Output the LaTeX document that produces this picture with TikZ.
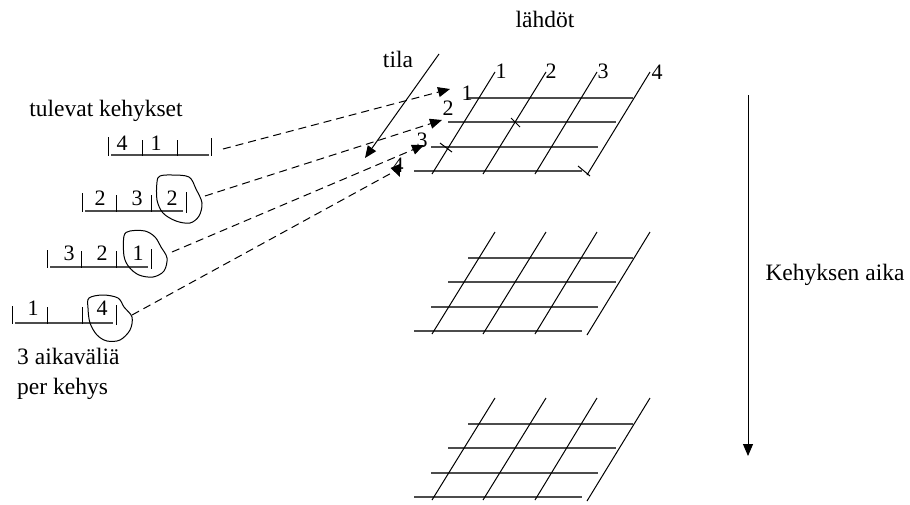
\documentclass[tikz,border=0pt]{standalone}
\usepackage{fontspec}
\setmainfont{Liberation Serif}
\usetikzlibrary{arrows.meta}
\newcommand\gridplane[2]{%
  \begin{scope}[shift={(0,#1)}]
    \draw[hline] (468,98)--(633,98) (448,122)--(616,122) (431,147)--(598,147) (414,171)--(582,171);
    \draw[dline] (495,72)--(432,174) (546,72)--(483,174) (597,72)--(535,174) (650,72)--(587,175);
  \end{scope}}
\begin{document}
\begin{tikzpicture}[x=1pt,y=-1pt,
  txt/.style={inner sep=0pt,font=\fontsize{23.5}{27}\selectfont},
  num/.style={inner sep=0pt,font=\fontsize{22}{26}\selectfont},
  hline/.style={line width=1.7pt,draw=black!70},
  dline/.style={line width=1pt},
  bar/.style={line width=1pt},
  blob/.style={line width=1pt},
  link/.style={dash pattern=on 8pt off 5pt,line width=1pt,-{Triangle[length=12pt,width=10pt]}},
  tip/.style={line width=1pt,-{Triangle[length=12pt,width=10pt]}},
  tick/.style={line width=1pt}]
\useasboundingbox (0,0) rectangle (910,504);

% texts
\node[txt,anchor=base] (lahdot) at (545,27) {lähdöt};
\node[txt,anchor=base] (tila) at (398,67) {tila};
\node[txt,anchor=base] (tulevat) at (106,116) {tulevat kehykset};
\node[txt,anchor=base] (aika) at (835,280) {Kehyksen aika};
\node[txt,anchor=base west] (aikav) at (17,364) {3 aikaväliä};
\node[txt,anchor=base west] (per) at (17,394) {per kehys};

% grids
\gridplane{0}{1}
\gridplane{160}{2}
\gridplane{326}{3}

% ticks on first grid
\draw[tick] (511,118)--(520,127) (440,143)--(452,152) (578,166)--(590,176);

% grid labels
\node[num] (c1) at (501,71) {1};
\node[num] (c2) at (551,71) {2};
\node[num] (c3) at (603,71) {3};
\node[num] (c4) at (657,72) {4};
\node[num] (r1) at (467,93) {1};
\node[num] (r2) at (448,108) {2};
\node[num] (r3) at (422,140) {3};
\node[num] (r4) at (398,165) {4};

% frames
\draw[hline] (111,155)--(209,155);
\draw[bar] (108,137)--(108,156) (142,140)--(142,156) (177,140)--(177,156) (211,138)--(211,156);
\node[num] (f1a) at (122,143) {4};
\node[num] (f1b) at (156,143) {1};

\draw[hline] (85,211)--(183,211);
\draw[bar] (82,193)--(82,212) (116,195)--(116,212) (151,195)--(151,212) (186,192)--(186,213);
\node[num] (f2a) at (100,198) {2};
\node[num] (f2b) at (137,198) {3};
\node[num] (f2c) at (172,198) {2};

\draw[hline] (50,267)--(148,267);
\draw[bar] (47,250)--(47,268) (81,251)--(81,268) (116,251)--(116,268) (151,249)--(151,269);
\node[num] (f3a) at (69,253) {3};
\node[num] (f3b) at (102,253) {2};
\node[num] (f3c) at (138,253) {1};

\draw[hline] (15,323)--(113,323);
\draw[bar] (12,306)--(12,324) (47,307)--(47,324) (82,307)--(82,324) (116,305)--(116,325);
\node[num] (f4a) at (33,308) {1};
\node[num] (f4b) at (102,308) {4};

% blobs
\draw[blob] plot[smooth cycle,tension=0.55] coordinates {(157,182) (160,176) (172,175) (189,177) (196,189) (202,203) (199,216) (190,223) (176,221) (163,213) (157,200)};
\draw[blob] plot[smooth cycle,tension=0.55] coordinates {(124,236) (130,231) (145,231) (155,237) (161,247) (167,258) (164,271) (153,277) (139,275) (129,267) (124,256)};
\draw[blob] plot[smooth cycle,tension=0.55] coordinates {(89,298) (103,295) (118,298) (124,307) (132,317) (130,330) (120,340) (107,341) (97,335) (90,323) (88,308)};

% connector end points
\coordinate (s1) at (223,149);
\coordinate (s2) at (205,196);
\coordinate (s3) at (172,252);
\coordinate (s4) at (132,315);
\coordinate (e1) at (450,89);
\coordinate (e2) at (442,120);
\coordinate (e3) at (424,145);
\coordinate (k4) at (397,170);
\coordinate (e4) at (400,177);
\coordinate (t0) at (439,54);
\coordinate (t1) at (365,158);
\coordinate (a0) at (748,95);
\coordinate (a1) at (748,456);

\draw[link] (s1)--(e1);
\draw[link] (s2)--(e2);
\draw[link] (s3)--(e3);
\draw[link] (s4)--(k4)--(e4);
\draw[tip] (t0)--(t1);
\draw[tip] (a0)--(a1);
\end{tikzpicture}
\end{document}
